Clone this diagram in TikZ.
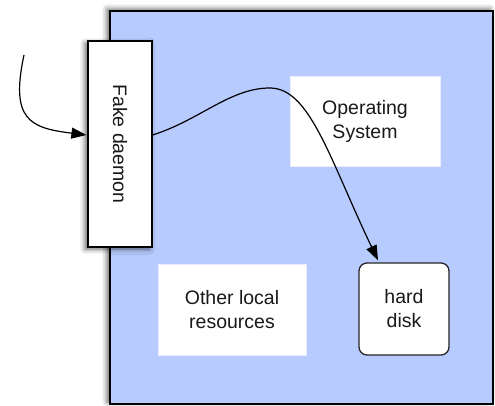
\documentclass[tikz,border=0pt]{standalone}
\usepackage{fontspec}
\setmainfont{Liberation Sans}
\usetikzlibrary{calc,arrows.meta,shadows.blur}
\definecolor{hostblue}{RGB}{183,203,255}
\definecolor{txt}{RGB}{25,25,25}
\tikzset{
  host/.style={draw=black, line width=1.4pt, fill=hostblue, minimum width=383pt, minimum height=393pt, inner sep=0pt,
    blur shadow={shadow xshift=-3pt, shadow yshift=2pt, shadow blur radius=5pt, shadow opacity=60}},
  daemonbox/.style={draw=black, line width=1.2pt, fill=white, minimum width=64pt, minimum height=206pt, inner sep=0pt,
    blur shadow={shadow xshift=-3pt, shadow yshift=-2pt, shadow blur radius=5pt, shadow opacity=60}},
  plainbox/.style={fill=white, draw=white!92!blue, line width=0.6pt, align=center, text=txt, inner sep=0pt},
  diskbox/.style={draw=black!85, fill=white, line width=1.3pt, rounded corners=8pt, align=center, text=txt, inner sep=0pt,
    minimum width=90pt, minimum height=92pt},
  flow/.style={draw=black, line width=1.2pt, -{Triangle[length=15pt,width=11pt]}},
}
\begin{document}
\begin{tikzpicture}[x=1pt,y=-1pt, font=\fontsize{19.5}{24}\selectfont]
\useasboundingbox (0,0) rectangle (495,406);
\node[host] (host) at (301.5,207.5) {};
\node[daemonbox] (daemon) at (120,144) {};
\node[rotate=-90, text=txt] (dlabel) at (daemon.center) {Fake daemon};
\node[plainbox, minimum width=150pt, minimum height=90pt] (os) at (365,121) {Operating\\System};
\node[plainbox, minimum width=148pt, minimum height=91pt] (other) at (232,309.5) {Other local\\resources};
\node[diskbox] (disk) at (404,309) {hard\\disk};
\coordinate (src) at (24,55);
\draw[flow] (src) .. controls (10,120) and (30,128) .. ($(daemon.west)+(-1,-9)$);
\draw[flow] ($(daemon.east)+(0,-9)$) .. controls (200,120) and (230,88) .. (270,88)
   .. controls (310,88) and (330,160) .. ($(disk.north)+(-26,-2)$);
\end{tikzpicture}
\end{document}
